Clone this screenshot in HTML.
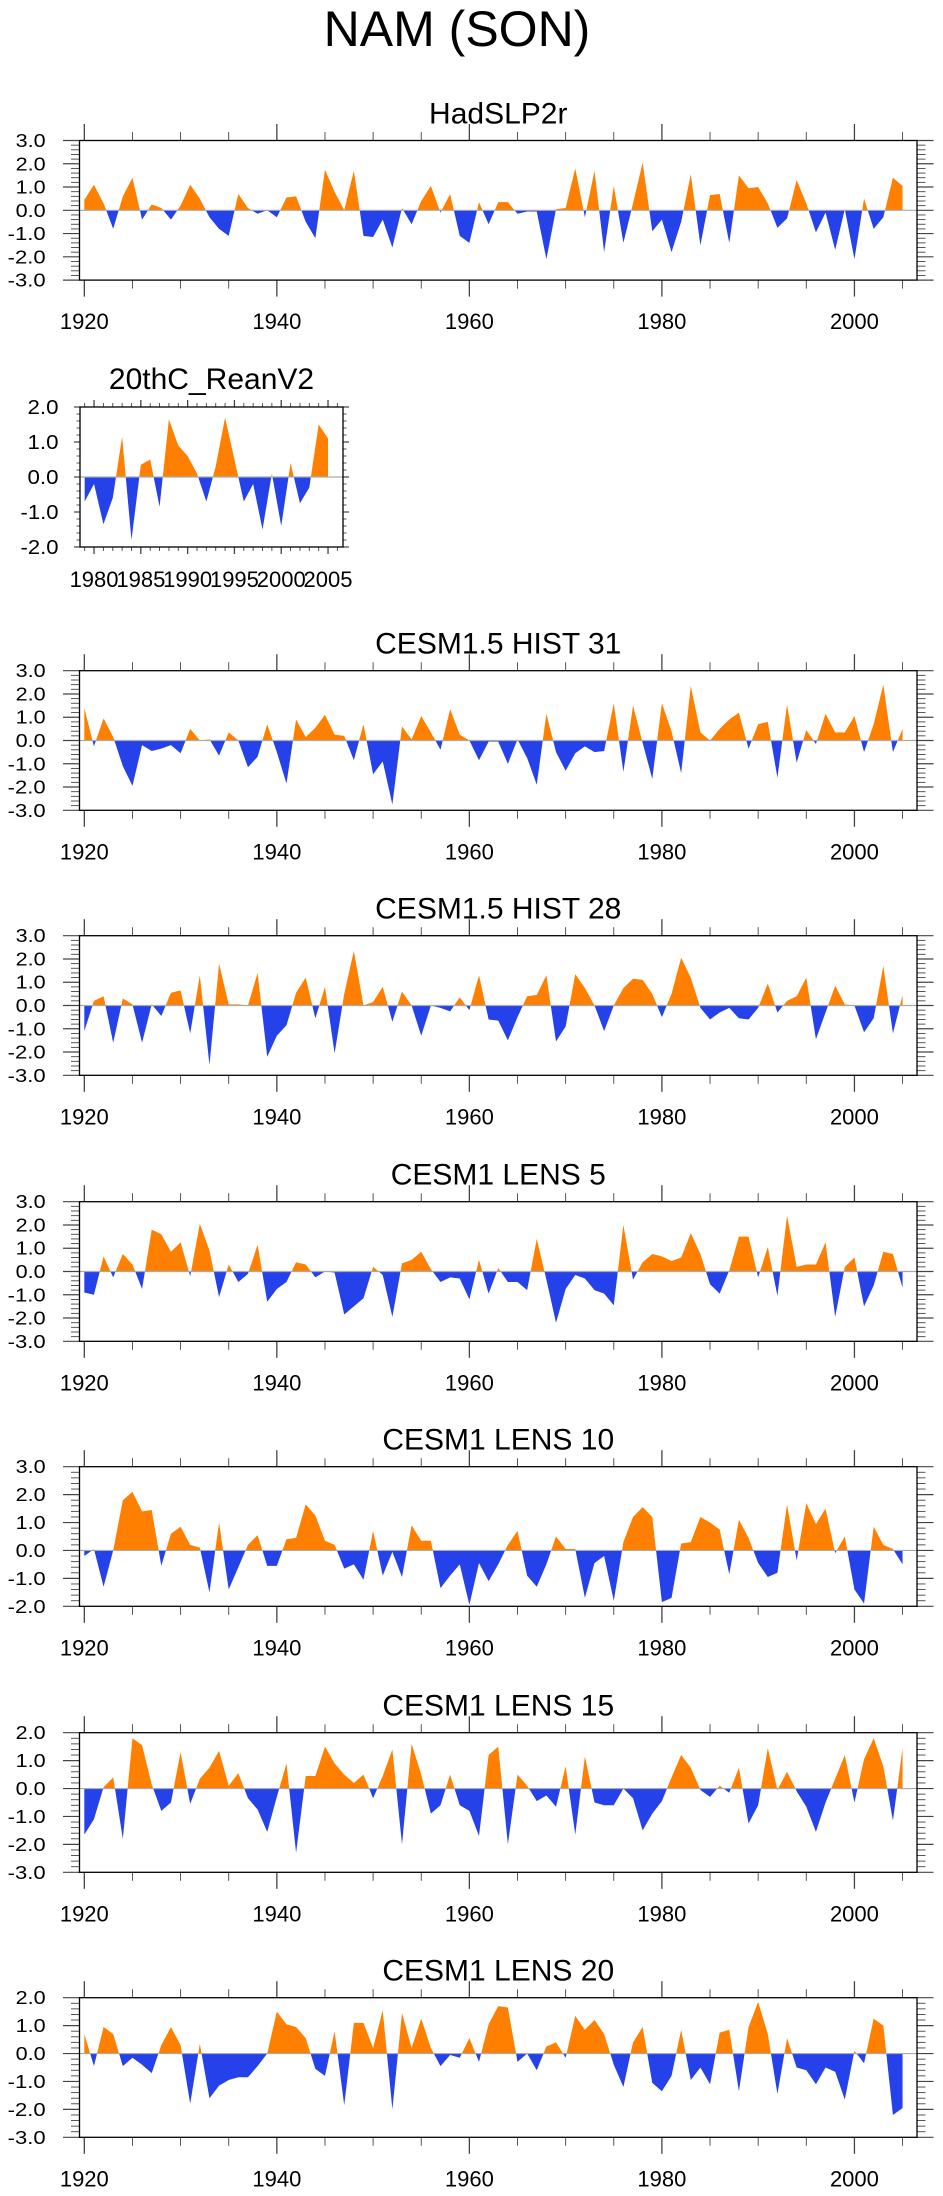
<!DOCTYPE html>
<html><head><meta charset="utf-8"><title>NAM (SON)</title>
<style>
html,body{margin:0;padding:0;background:#fff;}
svg{display:block;font-family:"Liberation Sans",Arial,sans-serif;}
</style></head>
<body>
<svg id="chart" width="943" height="2196" viewBox="0 0 943 2196" xmlns="http://www.w3.org/2000/svg">
<text x="457" y="46" font-size="50" text-anchor="middle" fill="#000">NAM (SON)</text>
</svg>
<script>
// ---- data ----
const startYearLong = 1920;
const startYearRean = 1979;
const hadslp2r = [0.45,1.1,0.3,-0.8,0.6,1.4,-0.4,0.25,0.1,-0.4,
 0.2,1.1,0.5,-0.3,-0.8,-1.1,0.7,0.1,-0.15,0.0,
 -0.3,0.55,0.6,-0.5,-1.2,1.75,0.8,0.0,1.7,-1.1,
 -1.15,-0.4,-1.6,0.1,-0.6,0.4,1.05,-0.1,0.7,-1.1,
 -1.4,0.35,-0.6,0.35,0.35,-0.15,-0.05,-0.05,-2.1,0.05,
 0.1,1.8,-0.3,1.7,-1.8,1.05,-1.4,0.3,2.05,-0.9,
 -0.4,-1.8,-0.5,1.55,-1.5,0.65,0.7,-1.4,1.5,0.95,
 1.0,0.3,-0.75,-0.35,1.3,0.3,-0.95,-0.1,-1.7,0.05,
 -2.1,0.5,-0.8,-0.3,1.4,1.05];
const reanV2 = [-0.7,-0.2,-1.35,-0.6,1.15,-1.8,0.35,0.5,-0.85,1.65,
 0.9,0.6,0.1,-0.7,0.3,1.7,0.5,-0.7,-0.2,-1.5,
 0.1,-1.4,0.4,-0.75,-0.3,1.5,1.1];
const hist31 = [1.4,-0.25,0.95,0.15,-1.1,-1.95,-0.2,-0.45,-0.35,-0.2,
 -0.55,0.5,0.0,0.05,-0.65,0.35,0.0,-1.15,-0.7,0.7,
 -0.5,-1.85,0.9,0.15,0.55,1.1,0.25,0.2,-0.85,0.7,
 -1.45,-0.9,-2.75,0.6,0.05,1.05,0.35,-0.4,1.35,0.25,
 0.0,-0.85,-0.05,-0.05,-1.0,0.05,-0.75,-1.9,1.15,-0.5,
 -1.3,-0.55,-0.25,-0.5,-0.45,1.6,-1.35,1.5,-0.1,-1.65,
 1.6,0.4,-1.4,2.35,0.35,0.0,0.5,0.9,1.2,-0.35,
 0.7,0.8,-1.6,1.55,-0.95,0.45,-0.15,1.15,0.35,0.35,
 1.05,-0.5,0.7,2.4,-0.5,0.5];
const hist28 = [-1.1,0.2,0.4,-1.6,0.3,0.05,-1.6,0.05,-0.45,0.55,
 0.65,-1.2,1.3,-2.55,1.8,0.05,0.05,0.0,1.4,-2.2,
 -1.3,-0.85,0.55,1.2,-0.55,0.8,-2.05,0.5,2.35,0.0,
 0.15,0.8,-0.7,0.6,0.0,-1.3,0.0,-0.1,-0.25,0.35,
 -0.2,1.3,-0.6,-0.65,-1.5,-0.5,0.4,0.45,1.3,-1.55,
 -0.9,1.35,0.75,0.0,-1.1,0.0,0.75,1.15,1.1,0.5,
 -0.5,0.5,2.05,1.2,-0.1,-0.6,-0.3,-0.1,-0.55,-0.6,
 -0.1,0.95,-0.3,0.2,0.4,1.2,-1.45,-0.3,0.85,0.05,
 0.0,-1.15,-0.55,1.7,-1.2,0.45];
const lens5 = [-0.9,-1.0,0.65,-0.25,0.75,0.3,-0.75,1.8,1.6,0.85,
 1.25,-0.2,2.05,0.9,-1.1,0.3,-0.45,-0.1,1.15,-1.3,
 -0.75,-0.45,0.4,0.3,-0.25,0.0,-0.05,-1.85,-1.5,-1.15,
 0.2,-0.15,-1.95,0.35,0.5,0.85,0.1,-0.45,-0.25,-0.3,
 -1.2,0.5,-0.95,0.15,-0.45,-0.45,-0.8,1.4,-0.35,-2.2,
 -0.75,-0.15,-0.3,-0.8,-0.95,-1.45,2.0,-0.35,0.4,0.75,
 0.65,0.45,0.6,1.65,0.75,-0.55,-0.95,0.05,1.5,1.5,
 -0.25,1.05,-1.05,2.4,0.2,0.3,0.3,1.25,-1.95,0.2,
 0.6,-1.5,-0.6,0.85,0.75,-0.7];
const lens10 = [-0.2,0.05,-1.3,0.0,1.8,2.1,1.4,1.45,-0.55,0.6,
 0.85,0.2,0.1,-1.5,1.0,-1.4,-0.6,0.2,0.55,-0.55,
 -0.55,0.4,0.45,1.65,1.25,0.35,0.2,-0.65,-0.5,-1.05,
 0.7,-0.9,-0.05,-0.95,0.9,0.35,0.35,-1.35,-0.9,-0.5,
 -1.95,-0.45,-1.1,-0.5,0.2,0.7,-0.9,-1.3,-0.5,0.5,
 0.05,0.05,-1.7,-0.45,-0.2,-1.8,0.3,1.2,1.55,1.2,
 -1.85,-1.7,0.25,0.3,1.2,1.0,0.75,-0.85,1.1,0.45,
 -0.45,-0.95,-0.8,1.65,-0.35,1.7,0.95,1.5,-0.1,0.5,
 -1.4,-1.9,0.85,0.2,0.05,-0.5];
const lens15 = [-1.65,-1.1,0.05,0.4,-1.8,1.8,1.55,0.15,-0.8,-0.5,
 1.3,-0.55,0.35,0.75,1.35,0.1,0.55,-0.35,-0.75,-1.55,
 -0.3,0.9,-2.3,0.45,0.45,1.5,0.9,0.5,0.2,0.5,
 -0.35,0.45,1.4,-2.0,1.6,0.5,-0.9,-0.6,0.5,-0.6,
 -0.8,-1.7,1.2,1.5,-2.0,0.5,0.1,-0.45,-0.25,-0.65,
 0.8,-1.65,1.15,-0.5,-0.6,-0.6,0.0,-0.35,-1.5,-0.9,
 -0.45,0.4,1.2,0.75,-0.05,-0.3,0.1,-0.15,0.75,-1.25,
 -0.6,1.45,-0.05,0.6,-0.1,-0.65,-1.55,-0.5,0.35,1.2,
 -0.5,1.05,1.8,0.8,-1.15,1.45];
const lens20 = [0.7,-0.45,0.95,0.7,-0.45,-0.15,-0.4,-0.7,0.3,0.95,
 0.3,-1.8,0.35,-1.6,-1.15,-0.95,-0.85,-0.85,-0.45,0.0,
 1.5,1.05,0.95,0.55,-0.55,-0.8,0.8,-1.85,1.1,1.1,
 0.2,1.55,-2.0,1.45,0.2,1.25,0.2,-0.45,-0.05,-0.15,
 0.55,-0.3,1.05,1.7,1.65,-0.3,0.0,-0.6,0.25,0.4,
 -0.15,1.35,0.85,1.2,0.7,-0.4,-1.2,0.4,0.95,-1.05,
 -1.35,-0.8,0.85,-0.95,-0.5,-1.1,0.75,0.85,-1.35,0.95,
 1.85,0.7,-1.45,0.55,-0.5,-0.6,-1.1,-0.5,-0.65,-1.65,
 0.1,-0.35,1.25,1.0,-2.2,-1.95];
const longXTicks = [1920,1940,1960,1980,2000];
const reanXTicks = [1980,1985,1990,1995,2000,2005];

const NS = "http://www.w3.org/2000/svg";
const svg = document.getElementById("chart");
const ORANGE = "#ff8000", BLUE = "#2541e9";

function el(tag, attrs, parent){
  const e = document.createElementNS(NS, tag);
  for (const k in attrs) e.setAttribute(k, attrs[k]);
  parent.appendChild(e);
  return e;
}

function drawPanel(p, idx){
  const g = el("g", {}, svg);
  
  
  const L=p.L, R=p.R, T=p.T, B=p.T+p.H;
  const xs = yr => L + (yr - p.xmin) / (p.xmax - p.xmin) * (R - L);
  const ys = v => B - (v - p.ymin) / (p.ymax - p.ymin) * (B - T);
  const y0 = ys(0);
  const t = el("text", {x:(L+R)/2, y:T-p.titleGap, "font-size":p.titleSize, "text-anchor":"middle", fill:"#000"}, g);
  t.textContent = p.title;
  
  
  const cu = el("clipPath", {id:"cu"+idx}, g);
  el("rect", {x:L, y:T, width:R-L, height:y0-T}, cu);
  const cd = el("clipPath", {id:"cd"+idx}, g);
  el("rect", {x:L, y:y0, width:R-L, height:B-y0}, cd);
  let d = "M" + xs(p.start).toFixed(2) + "," + y0.toFixed(2);
  p.values.forEach((v,i)=>{ d += " L" + xs(p.start+i).toFixed(2) + "," + ys(v).toFixed(2); });
  d += " L" + xs(p.start + p.values.length - 1).toFixed(2) + "," + y0.toFixed(2) + " Z";
  const pa = el("path", {d:d, fill:ORANGE, "clip-path":"url(#cu"+idx+")"}, g);
  
  
  const pb = el("path", {d:d, fill:BLUE, "clip-path":"url(#cd"+idx+")"}, g);
  
  
  const zl = el("line", {x1:L, x2:R, y1:y0, y2:y0, stroke:"#aaa", "stroke-width":1.2}, g);
  
  
  const nMin = Math.round((p.ymax - p.ymin) / 0.2);
  for (let i=0;i<=nMin;i++){
    const v = p.ymin + i*0.2;
    const major = (i % 5 === 0);
    const len = major ? p.yMaj : p.yMin;
    const y = ys(v);
    el("line", {x1:L-len, x2:L, y1:y, y2:y, stroke:"#444", "stroke-width":major?1.2:0.9}, g);
    el("line", {x1:R, x2:R+len, y1:y, y2:y, stroke:"#444", "stroke-width":major?1.2:0.9}, g);
    if (major){
      const lab = el("text", {x:p.yLabX, y:y+p.yLabDy, "font-size":p.yLabSize, "text-anchor":"end", fill:"#000",
        textLength: v < -0.01 ? p.yLabWN : p.yLabW, lengthAdjust:"spacingAndGlyphs"}, g);
      lab.textContent = (Math.abs(v)<0.01?0:v).toFixed(1);
      
      
    }
  }
  for (let yr = Math.ceil(p.xmin); yr <= p.xmax; yr++){
    const isMaj = p.xLabels.indexOf(yr) >= 0;
    const isMin = (yr % p.xMinorStep === 0);
    if (!isMaj && !isMin) continue;
    const len = isMaj ? p.xMaj : p.xMin;
    const x = xs(yr);
    el("line", {x1:x, x2:x, y1:T-len, y2:T, stroke:"#444", "stroke-width":isMaj?1.3:0.9}, g);
    el("line", {x1:x, x2:x, y1:B, y2:B+len, stroke:"#444", "stroke-width":isMaj?1.3:0.9}, g);
    if (isMaj){
      const lab = el("text", {x:x, y:B+p.xLabDy, "font-size":p.xLabSize, "text-anchor":"middle", fill:"#000"}, g);
      lab.textContent = String(yr);
      
      
    }
  }
  const fr = el("rect", {x:L, y:T, width:R-L, height:B-T, fill:"none", stroke:"#000", "stroke-width":1.3}, g);
  
  
}

const longBase = {L:79.5, R:917, H:139.6, xmin:1919.5, xmax:2006.5, start:startYearLong,
  titleGap:17, titleSize:30, yMaj:16.5, yMin:8.5, yLabX:45.7, yLabDy:6.5, yLabSize:18.5, yLabW:30, yLabWN:38,
  xMaj:16.5, xMin:8.5, xMinorStep:5, xLabels:longXTicks, xLabDy:49, xLabSize:22};

const panels = [
  Object.assign({}, longBase, {name:"panel-hadslp2r", title:"HadSLP2r", T:140.5, ymin:-3, ymax:3, values:hadslp2r}),
  {name:"panel-20thc-reanv2", title:"20thC_ReanV2", L:80, R:343, T:407, H:140, xmin:1978.5, xmax:2006.6, start:startYearRean,
   titleGap:18, titleSize:30, yMaj:6, yMin:3.5, yLabX:58.5, yLabDy:7, yLabSize:20, yLabW:31, yLabWN:38,
   xMaj:7, xMin:4, xMinorStep:1, xLabels:reanXTicks, xLabDy:40, xLabSize:22, ymin:-2, ymax:2, values:reanV2},
  Object.assign({}, longBase, {name:"panel-cesm15-hist31", title:"CESM1.5 HIST 31", T:670.7, ymin:-3, ymax:3, values:hist31}),
  Object.assign({}, longBase, {name:"panel-cesm15-hist28", title:"CESM1.5 HIST 28", T:935.7, ymin:-3, ymax:3, values:hist28}),
  Object.assign({}, longBase, {name:"panel-cesm1-lens5", title:"CESM1 LENS 5", T:1201.7, ymin:-3, ymax:3, values:lens5}),
  Object.assign({}, longBase, {name:"panel-cesm1-lens10", title:"CESM1 LENS 10", T:1466.7, ymin:-2, ymax:3, values:lens10}),
  Object.assign({}, longBase, {name:"panel-cesm1-lens15", title:"CESM1 LENS 15", T:1732.7, ymin:-3, ymax:2, values:lens15}),
  Object.assign({}, longBase, {name:"panel-cesm1-lens20", title:"CESM1 LENS 20", T:1997.7, ymin:-3, ymax:2, values:lens20})
];
panels.forEach((p,i)=>drawPanel(p,i));
</script>
</body></html>
